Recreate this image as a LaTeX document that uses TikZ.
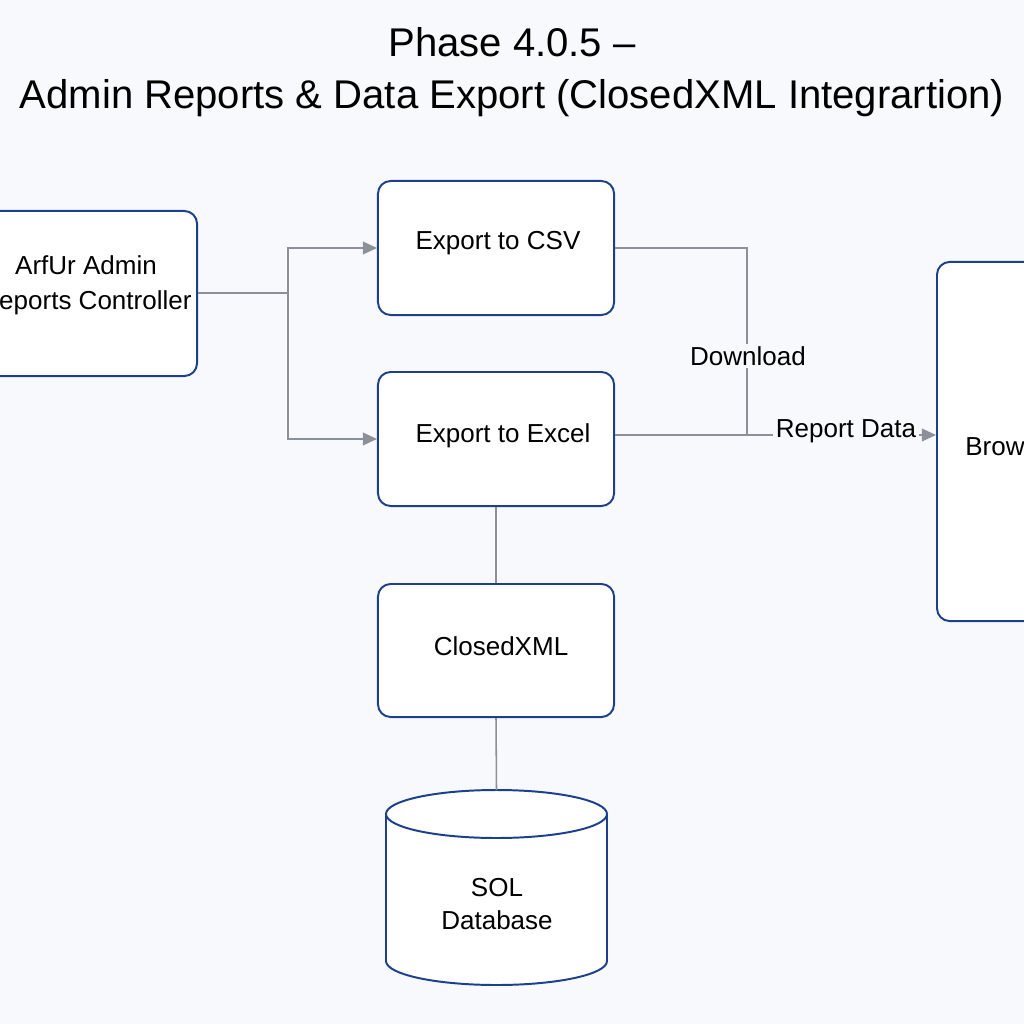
\documentclass[tikz,border=0pt]{standalone}
\usepackage{fontspec}
\setmainfont{Liberation Sans}
\usetikzlibrary{arrows.meta}
\definecolor{pagebg}{HTML}{F7F9FC}
\definecolor{boxblue}{HTML}{1E3F8C}
\definecolor{wiregray}{HTML}{8C9099}
\begin{document}
\begin{tikzpicture}[x=0.025cm, y=-0.025cm,
		every node/.style={black, font=\fontsize{18.5}{25}\selectfont},
		box/.style={draw=boxblue, fill=white, line width=1.4pt, rounded corners=9pt, inner sep=0pt},
		wire/.style={draw=wiregray, line width=1.1pt},
		arr/.style={wire, -{Triangle[length=10pt, width=9pt, fill=wiregray]}},
		tag/.style={fill=pagebg, inner sep=2pt}]
	\useasboundingbox (0,0) rectangle (1024,1024);
	\fill[pagebg] (0,0) rectangle (1024,1024);
	\clip (0,0) rectangle (1024,1024);
	% title
	\node[font=\fontsize{28.5}{37}\selectfont, align=center] (title) at (512,72) {Phase 4.0.5 --\\Admin Reports \& Data Export (ClosedXML Integrartion)};
	% boxes
	\node[box, minimum width=5.675cm, minimum height=4.125cm] (ctrl) at (83.5,293.5) {};
	\node[align=center] (ctrltext) at (86,285) {ArfUr Admin\\Reports Controller};
	\node[box, minimum width=5.9cm, minimum height=3.35cm] (csv) at (496,248) {};
	\node (csvtext) at (498,243) {Export to CSV};
	\node[box, minimum width=5.9cm, minimum height=3.35cm] (excel) at (496,439) {};
	\node (exceltext) at (503,436) {Export to Excel};
	\node[box, minimum width=5.9cm, minimum height=3.325cm] (cxml) at (496,650.5) {};
	\node (cxmltext) at (501,646) {ClosedXML};
	\node[box, minimum width=3.8cm, minimum height=8.975cm] (browser) at (1013,441.5) {};
	\node (browsertext) at (1013,447) {Browser};
	% database
	\coordinate (db) at (496.5,790);
	\draw[draw=boxblue, fill=white, line width=1.4pt] (386,814) -- (386,961) arc[start angle=180, end angle=0, x radius=110.5, y radius=24] -- (607,814);
	\draw[draw=boxblue, fill=white, line width=1.4pt] (496.5,814) ellipse[x radius=110.5, y radius=24];
	\node[align=center, font=\fontsize{18.5}{23.5}\selectfont] (dbtext) at (497,904) {SOL\\Database};
	% connectors
	\coordinate (split) at (288,293);
	\draw[wire] (ctrl.east |- split) -- (split);
	\draw[arr] (split) |- (csv.west);
	\draw[arr] (split) |- (excel.west);
	\coordinate (join) at (747,435);
	\draw[wire] (csv.east) -| (join);
	\draw[arr] (excel.east |- join) -- (browser.west |- join);
	\draw[wire] (excel.south) -- (cxml.north);
	\draw[wire] (cxml.south) -- (db);
	\node[tag] (dl) at (748,356) {Download};
	\node[tag] (rd) at (846,431) {Report Data};
\end{tikzpicture}
\end{document}
